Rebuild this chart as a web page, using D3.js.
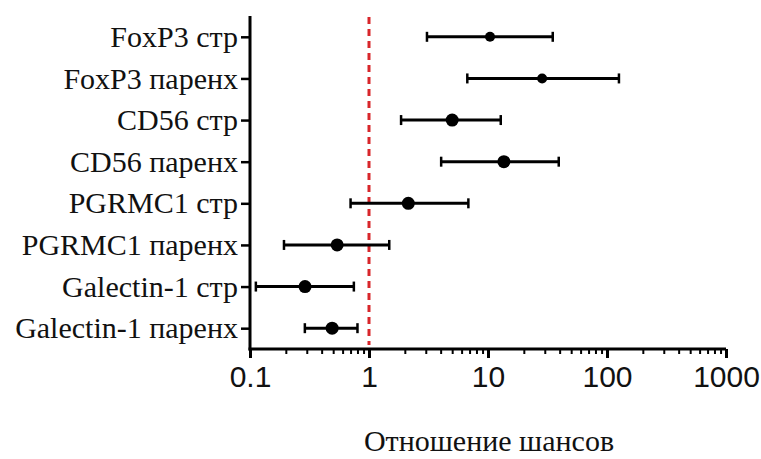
<!DOCTYPE html>
<html>
<head>
<meta charset="utf-8">
<script src="https://cdn.jsdelivr.net/npm/d3@7"></script>
<style>
  body { margin: 0; background: #fff; }
  .cat-label { font-family: "Liberation Serif", "Times New Roman", serif; font-size: 30px; fill: #111; }
  .tick-label { font-family: "Liberation Sans", Arial, sans-serif; font-size: 30px; fill: #111; }
  .title { font-family: "Liberation Serif", "Times New Roman", serif; font-size: 30px; fill: #111; }
</style>
</head>
<body>
<div id="wrapper"></div>
<script>
// data
const categories = [
  "FoxP3 стр",
  "FoxP3 паренх",
  "CD56 стр",
  "CD56 паренх",
  "PGRMC1 стр",
  "PGRMC1 паренх",
  "Galectin-1 стр",
  "Galectin-1 паренх",
]
const oddsRatio = [10.4, 28.5, 5.0, 13.6, 2.14, 0.54, 0.29, 0.49]
const lowerCI = [3.07, 6.7, 1.86, 4.04, 0.70, 0.193, 0.112, 0.289]
const upperCI = [35, 126, 12.8, 39.3, 6.84, 1.48, 0.746, 0.80]
const xTickValues = [0.1, 1, 10, 100, 1000]
const xTickLabels = ["0.1", "1", "10", "100", "1000"]
const referenceValue = 1
const xTitle = "Отношение шансов"

const dataset = categories.map((name, i) => ({
  name,
  or: oddsRatio[i],
  lo: lowerCI[i],
  hi: upperCI[i],
}))

const dimensions = {
  width: 761,
  height: 459,
  margin: { top: 16, right: 35, bottom: 110, left: 250 },
}
dimensions.boundedWidth =
  dimensions.width - dimensions.margin.left - dimensions.margin.right
dimensions.boundedHeight =
  dimensions.height - dimensions.margin.top - dimensions.margin.bottom

const svg = d3
  .select("#wrapper")
  .append("svg")
  .attr("width", dimensions.width)
  .attr("height", dimensions.height)

const bounds = svg
  .append("g")
  .attr("transform", `translate(${dimensions.margin.left},${dimensions.margin.top})`)

// scales
const xScale = d3
  .scaleLog()
  .domain([0.1, 1000])
  .range([0, dimensions.boundedWidth])

const yScale = d3
  .scalePoint()
  .domain(categories)
  .range([0, dimensions.boundedHeight])
  .padding(0.5)

// reference line
bounds
  .append("line")
  .attr("x1", xScale(referenceValue))
  .attr("x2", xScale(referenceValue))
  .attr("y1", 1)
  .attr("y2", dimensions.boundedHeight - 4)
  .attr("stroke", "#d8262b")
  .attr("stroke-width", 3)
  .attr("stroke-dasharray", "7,5")

// error bars
const rows = bounds
  .selectAll(".row")
  .data(dataset)
  .join("g")
  .attr("class", "row")
  .attr("transform", d => `translate(0,${yScale(d.name)})`)

rows
  .append("line")
  .attr("x1", d => xScale(d.lo))
  .attr("x2", d => xScale(d.hi))
  .attr("stroke", "#000")
  .attr("stroke-width", 3)

rows
  .selectAll(".cap")
  .data(d => [d.lo, d.hi])
  .join("line")
  .attr("class", "cap")
  .attr("x1", d => xScale(d))
  .attr("x2", d => xScale(d))
  .attr("y1", -5)
  .attr("y2", 5)
  .attr("stroke", "#000")
  .attr("stroke-width", 2.5)

rows
  .append("circle")
  .attr("cx", d => xScale(d.or))
  .attr("r", (d, i) => (i < 2 ? 5 : 6.5))
  .attr("fill", "#000")

// y axis
const yAxis = bounds
  .append("g")
  .call(d3.axisLeft(yScale).tickSize(9).tickPadding(3))
yAxis.select(".domain").attr("stroke-width", 3).attr("d", `M0,0V${dimensions.boundedHeight + 1.5}`)
yAxis.selectAll(".tick line").attr("stroke-width", 2.5)
yAxis.selectAll(".tick text").attr("class", "cat-label").attr("dy", "0.32em")

// x axis - minor ticks
const minorTicks = xScale.ticks().filter(t => !xTickValues.includes(t))
const xAxisMinor = bounds
  .append("g")
  .attr("transform", `translate(0,${dimensions.boundedHeight})`)
  .call(d3.axisBottom(xScale).tickValues(minorTicks).tickSize(5).tickFormat(""))
xAxisMinor.select(".domain").remove()
xAxisMinor.selectAll(".tick line").attr("stroke-width", 2)

const xAxis = bounds
  .append("g")
  .attr("transform", `translate(0,${dimensions.boundedHeight})`)
  .call(
    d3
      .axisBottom(xScale)
      .tickValues(xTickValues)
      .tickSize(9)
      .tickSizeOuter(0)
      .tickPadding(8)
      .tickFormat((d, i) => xTickLabels[i])
  )
xAxis.select(".domain").attr("stroke-width", 3).attr("d", `M-1.5,0H${dimensions.boundedWidth}`)
xAxis.selectAll(".tick line").attr("stroke-width", 3)
xAxis.selectAll(".tick text").attr("class", "tick-label")

// title
svg
  .append("text")
  .attr("class", "title")
  .attr("x", 489)
  .attr("y", 451)
  .attr("text-anchor", "middle")
  .text(xTitle)
</script>
</body>
</html>
